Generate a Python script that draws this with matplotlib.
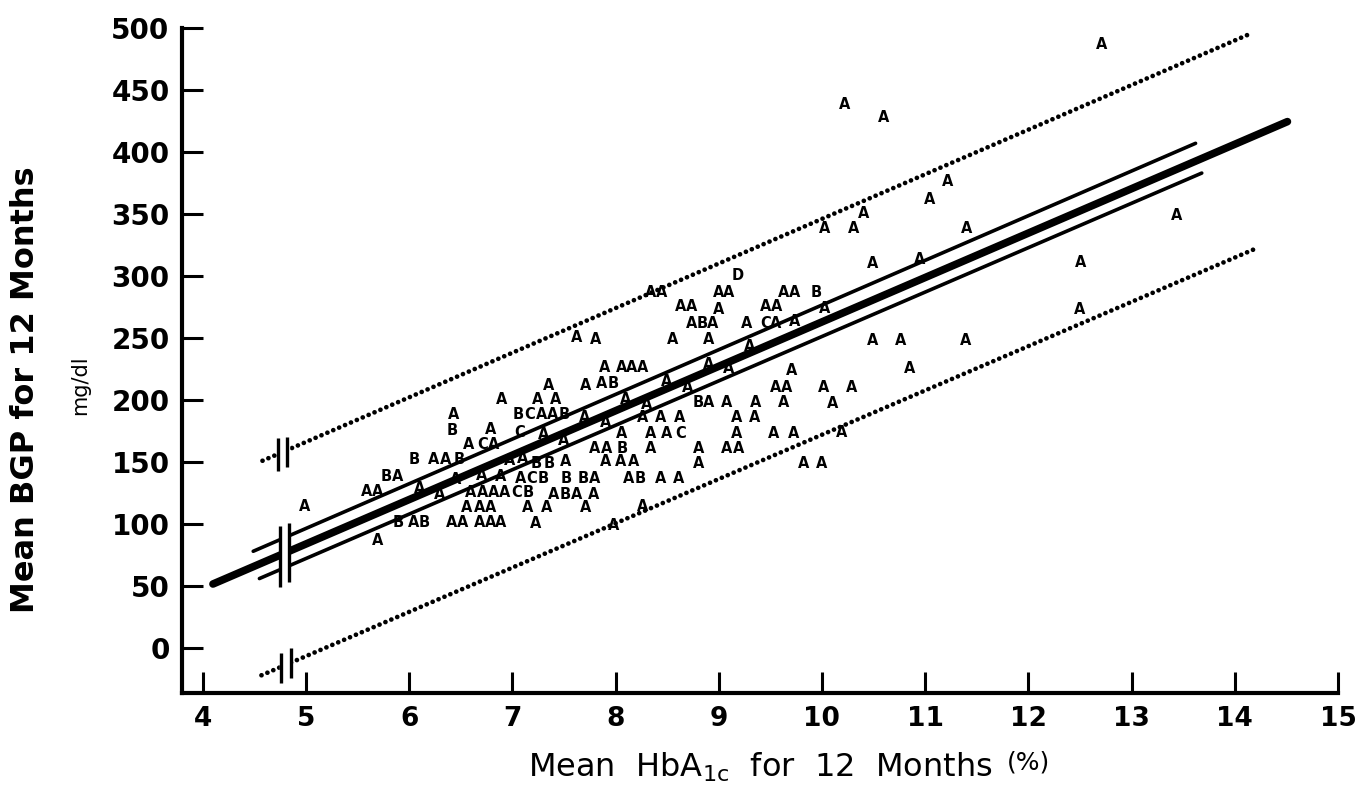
import numpy as np
import matplotlib.pyplot as plt
from matplotlib.patches import Rectangle

# scatter points: HbA1c (%), BGP (mg/dl), plotting letter (A=1, B=2, ... obs)
hba1c = [12.71, 10.22, 10.60, 11.22, 11.04, 10.40, 10.03, 10.31, 11.40, 13.44,
         10.49, 10.95, 12.51, 12.50, 10.03, 10.49, 10.76, 11.39, 10.85, 10.02,
         10.29, 10.10, 10.19, 9.82, 10.00,
         8.34, 8.45, 9.18, 9.00, 9.10, 9.63, 9.74, 9.94, 8.63, 8.74,
         9.00, 9.45, 9.56, 8.74, 8.84, 8.94, 9.27, 9.45, 9.55, 9.74,
         7.62, 7.81, 8.55, 8.90, 9.71, 7.89, 8.06, 8.16, 8.26, 7.35,
         7.71, 7.87, 7.98, 9.55, 9.66, 6.90, 7.25, 7.42, 8.80, 8.90,
         9.08, 9.36, 9.63, 7.06, 7.17, 7.28, 7.39, 7.50, 8.26, 8.44,
         8.62, 9.17, 9.35, 7.07, 8.06, 8.34, 8.50, 8.63, 9.17, 9.53,
         9.73, 7.80, 7.91, 8.06, 8.34, 8.81, 9.08, 9.19, 7.23, 7.36,
         7.52, 7.90, 8.05, 8.18, 8.81, 7.08, 7.19, 7.30, 7.52, 7.69,
         7.80, 8.13, 8.24, 8.44, 8.61, 6.60, 6.71, 6.82, 6.93, 7.04,
         7.15, 7.40, 7.51, 7.62, 7.79, 6.56, 6.68, 6.79, 7.15, 7.33,
         7.71, 7.23, 7.98, 8.26,
         6.43, 6.42, 6.79, 6.58, 6.71, 6.82, 6.05, 6.24, 6.35, 6.49,
         5.78, 5.89, 6.89, 5.59, 5.70, 4.99, 5.70, 5.89, 6.04, 6.15,
         6.41, 6.52, 6.68, 6.79, 6.89,
         6.10, 6.30, 6.45, 6.70, 6.97, 7.10, 7.30, 7.50, 7.70, 7.90,
         8.10, 8.30, 8.50, 8.70, 8.90, 9.10, 9.30]
bgp = [487, 438, 428, 376, 362, 350, 338, 338, 338, 349,
       310, 313, 311, 273, 274, 248, 248, 248, 225, 210,
       210, 197, 174, 149, 149,
       287, 287, 300, 287, 287, 287, 287, 287, 275, 275,
       273, 275, 275, 262, 262, 262, 262, 262, 262, 263,
       250, 249, 249, 249, 224, 226, 226, 226, 226, 212,
       212, 213, 213, 210, 210, 200, 200, 200, 198, 198,
       198, 198, 198, 188, 188, 188, 188, 188, 186, 186,
       186, 186, 186, 174, 173, 173, 173, 173, 173, 173,
       173, 161, 161, 161, 161, 161, 161, 161, 149, 149,
       150, 150, 150, 150, 149, 137, 137, 137, 137, 137,
       137, 137, 137, 137, 137, 125, 125, 125, 125, 125,
       125, 124, 124, 124, 124, 113, 113, 113, 113, 113,
       113, 100, 99, 114,
       188, 175, 176, 164, 164, 164, 152, 152, 152, 152,
       138, 138, 138, 126, 126, 114, 87, 101, 101, 101,
       101, 101, 101, 101, 101,
       129, 124, 136, 139, 151, 153, 172, 167, 186, 182,
       200, 196, 215, 210, 229, 225, 243]
code = list("AAAAAAAAAA"
            "AAAAAAAAAA"
            "AAAAA"
            "AADAAAABAA"
            "AAAABAACAA"
            "AAAAAAAAAA"
            "AABAAAAABA"
            "AAABCAABAA"
            "AAACAAACAA"
            "AAABAAAABB"
            "AAAAAACBBB"
            "AABAAAAAAC"
            "BABAAAAAAA"
            "AAAA"
            "ABAACABAAB"
            "BAAAAAABAB"
            "AAAAA"
            "AAAAAAAAAA"
            "AAAAAAA")

# fitted line, 95% limits for the line and for single values
fit_x = [4.10, 14.51]
fit_y = [51.6, 424.5]
ci_hi_x = [4.49, 13.62]
ci_hi_y = [78, 407]
ci_lo_x = [4.55, 13.68]
ci_lo_y = [56, 383]
pi_hi_x = [4.58, 14.14]
pi_hi_y = [151, 495]
pi_lo_x = [4.57, 14.20]
pi_lo_y = [-22, 322]

fig = plt.figure(figsize=(13.62, 7.86), dpi=100)
ax = fig.add_axes([182/1362, 93/786, 1156/1362, 665/786])
ax.set_xlim(3.8, 15)
ax.set_ylim(-36.3, 500)

for xi, yi, c in zip(hba1c, bgp, code):
    ax.text(xi, yi, c, ha="center", va="center",
            fontsize=10.5, fontweight="bold", zorder=2)

ax.plot(fit_x, fit_y, color="black", lw=5.5, solid_capstyle="round", zorder=3)
ax.plot(ci_hi_x, ci_hi_y, color="black", lw=2.6, solid_capstyle="round", zorder=3)
ax.plot(ci_lo_x, ci_lo_y, color="black", lw=2.6, solid_capstyle="round", zorder=3)
for xs, ys in [(pi_hi_x, pi_hi_y), (pi_lo_x, pi_lo_y)]:
    ax.plot(xs, ys, color="black", lw=3.4, linestyle=(0, (0.01, 1.35)),
            dash_capstyle="round", zorder=3)

# axis-break marks on the lines
for y0, h in [(42, 66), (138, 38), (-32, 36)]:
    ax.add_patch(Rectangle((4.752, y0), 0.085, h, color="white", zorder=4))
ax.vlines([4.745, 4.84], [49, 53], [98, 101], color="black", lw=2.4, zorder=5)
ax.vlines([4.73, 4.82], [143, 146], [169, 170], color="black", lw=2.4, zorder=5)
ax.vlines([4.76, 4.86], [-28, -24], [-4, 0], color="black", lw=2.4, zorder=5)

for s in ["top", "right"]:
    ax.spines[s].set_visible(False)
for s in ["left", "bottom"]:
    ax.spines[s].set_linewidth(3)

ax.set_xticks(range(4, 16))
ax.set_yticks(range(0, 501, 50))
ax.tick_params(direction="in", length=15, width=2.2, pad=9)
ax.tick_params(axis="y", labelsize=20)
ax.tick_params(axis="x", labelsize=19)
for lab in ax.get_yticklabels() + ax.get_xticklabels():
    lab.set_fontweight("bold")

fig.text(26/1362, 1 - 390/786, "Mean BGP for 12 Months", rotation=90,
         ha="center", va="center", fontsize=23, fontweight="bold")
fig.text(80/1362, 1 - 385/786, "mg/dl", rotation=90,
         ha="center", va="center", fontsize=15)
t = fig.text(528/1362, 1 - 777/786, "Mean  HbA$_{\\mathregular{1c}}$  for  12  Months",
             ha="left", va="baseline", fontsize=23)
ax.annotate("(%)", xy=(1, 0), xycoords=t, xytext=(10, 7),
            textcoords="offset points", ha="left", va="bottom", fontsize=18)

fig.savefig("out.png", dpi=100)
